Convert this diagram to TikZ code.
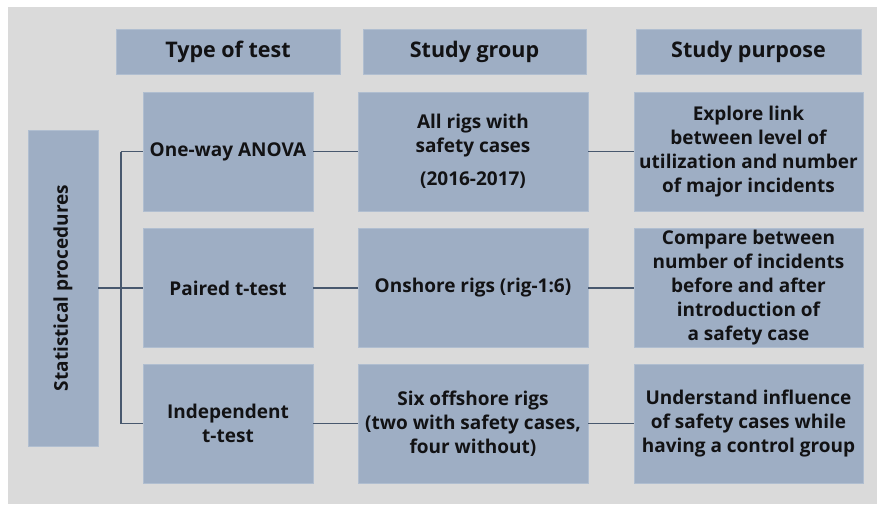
\documentclass[tikz,border=0pt]{standalone}
\usepackage{fontspec}
\setmainfont{Open Sans}
\usetikzlibrary{positioning}
\definecolor{ProcBlue}{RGB}{158,174,196}
\definecolor{ProcEdge}{RGB}{176,190,208}
\definecolor{ProcGray}{RGB}{218,218,218}
\definecolor{ProcLine}{RGB}{72,88,110}
\definecolor{ProcText}{RGB}{18,18,20}

\begin{document}
\begin{tikzpicture}[x=1pt,y=-1pt,
  box/.style={fill=ProcBlue,draw=ProcEdge,line width=0.8pt,align=center,
    text=ProcText,font=\bfseries\fontsize{19}{24}\selectfont,inner sep=2pt},
  headbox/.style={box,minimum height=45pt,font=\bfseries\fontsize{21.5}{24}\selectfont},
  rowbox/.style={box,minimum height=119pt},
  link/.style={draw=ProcLine,line width=1.1pt}]
\useasboundingbox (0,0) rectangle (879,504);
\fill[ProcGray] (8,7) rectangle (877,504);
% column heads
\node[headbox,minimum width=224pt] (hType) at (228,51.5) {Type of test};
\node[headbox,minimum width=223pt] (hGroup) at (474.5,51.5) {Study group};
\node[headbox,minimum width=225pt] (hPurpose) at (748.5,51.5) {Study purpose};
% left block
\node[box,minimum width=316pt,minimum height=70pt,rotate=90] (proc) at (63,288) {Statistical procedures};
% rows
\node[rowbox,minimum width=170pt] (t1) at (228,151.5) {One-way ANOVA};
\node[rowbox,minimum width=170pt] (t2) at (228,288) {Paired t-test};
\node[rowbox,minimum width=170pt] (t3) at (228,423.5) {Independent\\t-test};
\node[rowbox,minimum width=230pt] (g1) at (473,151.5) {All rigs with\\safety cases\\[9pt](2016-2017)};
\node[rowbox,minimum width=230pt] (g2) at (473,288) {Onshore rigs (rig-1:6)};
\node[rowbox,minimum width=230pt] (g3) at (473,423.5) {Six offshore rigs\\(two with safety cases,\\four without)};
\node[rowbox,minimum width=229pt] (p1) at (748.5,151.5) {Explore link\\between level of\\utilization and number\\of major incidents};
\node[rowbox,minimum width=229pt] (p2) at (748.5,288) {Compare between\\number of incidents\\before and after\\introduction of\\a safety case};
\node[rowbox,minimum width=229pt] (p3) at (748.5,423.5) {Understand influence\\of safety cases while\\having a control group};
% connectors
\coordinate (split) at (121,288);
\draw[link] (proc.south) -- (split);
\draw[link] (t1 -| split) -- (t3 -| split);
\foreach \i in {1,2,3}{
  \draw[link] (t\i -| split) -- (t\i);
  \draw[link] (t\i) -- (g\i);
  \draw[link] (g\i) -- (p\i);
}
\end{tikzpicture}
\end{document}
